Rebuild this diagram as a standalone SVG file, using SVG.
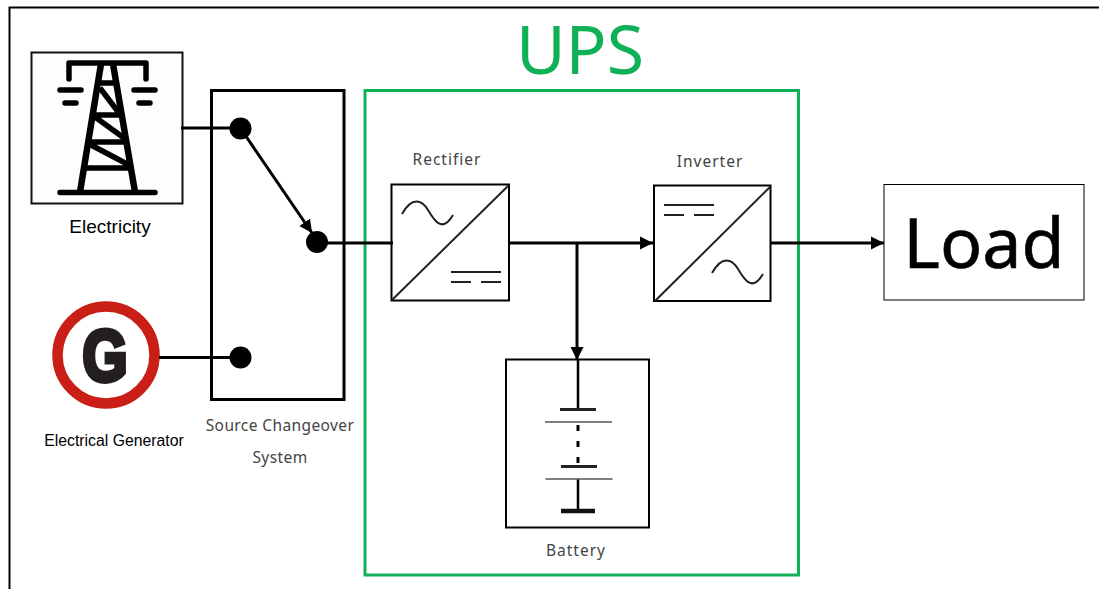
<svg xmlns="http://www.w3.org/2000/svg" width="1099" height="589" viewBox="0 0 1099 589">
<style>
.ar{font-family:"Liberation Sans",Arial,sans-serif;fill:#000}
.no{font-family:"Noto Sans","Open Sans",sans-serif;fill:#444;font-size:15.5px;text-anchor:middle;letter-spacing:.4px}
.sp{letter-spacing:1px}
.box{fill:#fff;stroke:#000}
.t{fill:none;stroke:#000;stroke-width:5.5;stroke-linecap:round;stroke-linejoin:round}
.w{fill:none;stroke:#222;stroke-width:2;stroke-linecap:butt}
.c{fill:none;stroke:#000;stroke-width:3}
.dot{fill:#000}
</style>
<defs>
<marker id="ah" markerUnits="userSpaceOnUse" markerWidth="14" markerHeight="14" refX="13" refY="7" orient="auto"><path d="M0,0.500 L13,7 L0,13.500 Z" fill="#000"/></marker>
</defs>
<rect width="1099" height="589" fill="#fff"/>
<path id="frame" d="M9.500,589 V7.500 H1099" fill="none" stroke="#000" stroke-width="2"/>
<g id="ups">
<rect x="365" y="90.500" width="433.500" height="484.500" fill="none" stroke="#0eb058" stroke-width="3"/>
<text x="580" y="74" text-anchor="middle" font-family="Noto Sans,sans-serif" font-size="68" fill="#0eb058">UPS</text>
</g>
<g id="electricity">
<rect x="31.500" y="52.500" width="151" height="151" fill="#fdfdfd" stroke="#111" stroke-width="2"/>
<path class="t" d="M69,79 V63 H146 V79 M60,90 H81 M134,90 H155 M65,103 H76 M139,103 H150 M60,192.500 H155"/>
<path class="t" style="stroke-linecap:butt;stroke-width:6.500" d="M101,64 L80,192 M113,64 L135,192"/>
<path class="t" style="stroke-linecap:butt" d="M99,83 H117 M94,115 H121 M90,142 H126 M85,168 H130 M100,88 L119,113 M95,117 L124,138 M91,145 L129,165"/>
<text class="ar" x="110" y="232.500" text-anchor="middle" font-size="19">Electricity</text>
</g>
<g id="generator">
<circle cx="106" cy="355" r="48.500" fill="#fff" stroke="#c91f17" stroke-width="10.500"/>
<text x="105" y="380.500" text-anchor="middle" font-family="Liberation Sans,sans-serif" font-weight="700" font-size="72" textLength="45" lengthAdjust="spacingAndGlyphs" fill="#231f20" stroke="#231f20" stroke-width="5">G</text>
<text class="ar" x="114" y="446" text-anchor="middle" font-size="15.800">Electrical Generator</text>
</g>
<g id="changeover">
<rect x="211.500" y="90.500" width="132.500" height="309" fill="none" stroke="#000" stroke-width="3"/>
<text class="no" x="280" y="431">Source Changeover</text>
<text class="no" x="280" y="463">System</text>
</g>
<g id="rectifier">
<rect class="box" x="391.500" y="184.500" width="117.500" height="116" stroke-width="2"/>
<path class="w" d="M392,300 L509,185"/>
<path class="w" d="M402,214 C412,196 422,200 428,210 C434,220 442,234 453,215"/>
<path class="w" d="M451,272 H501 M451,282 H471 M481,282 H501"/>
<text class="no sp" x="447" y="165">Rectifier</text>
</g>
<g id="inverter">
<rect class="box" x="654" y="185.500" width="116.500" height="115.500" stroke-width="2"/>
<path class="w" d="M655,301 L771,186"/>
<path class="w" d="M712,273 C722,255 732,259 738,269 C744,279 752,293 763,274"/>
<path class="w" d="M664,205 H714 M664,215 H684 M694,215 H714"/>
<text class="no sp" x="710" y="167">Inverter</text>
</g>
<g id="battery">
<rect class="box" x="506" y="359.500" width="143" height="168" stroke-width="2"/>
<path d="M578,360 V409 M578,479 V511" fill="none" stroke="#000" stroke-width="2.500"/>
<path d="M578,425 V431 M578,441 V447 M578,457 V463" fill="none" stroke="#000" stroke-width="3"/>
<path d="M560,409.500 H596 M561,466.500 H597" fill="none" stroke="#222" stroke-width="3"/>
<path d="M545,422 H612 M545.500,479 H612.500" fill="none" stroke="#555" stroke-width="1.500"/>
<path d="M561,511 H595" fill="none" stroke="#111" stroke-width="4.500"/>
<text class="no sp" x="576" y="556">Battery</text>
</g>
<g id="load">
<rect class="box" x="884" y="184.500" width="200" height="115.500" stroke-width="1"/>
<text x="984" y="268" text-anchor="middle" font-family="Noto Sans,sans-serif" font-size="70" fill="#000" stroke="#000" stroke-width=".6">Load</text>
</g>
<g id="connectors">
<path class="c" d="M181,128 H240"/>
<path class="c" d="M159,357.500 H240"/>
<path class="c" d="M241,129 L312,233" marker-end="url(#ah)"/>
<path class="c" d="M317,243 H393"/>
<path class="c" d="M510,243 H653" marker-end="url(#ah)"/>
<path class="c" d="M577,243 V360" marker-end="url(#ah)"/>
<path class="c" d="M770,243 H884" marker-end="url(#ah)"/>
<circle class="dot" cx="240.500" cy="128.500" r="11"/>
<circle class="dot" cx="240.500" cy="357.500" r="11"/>
<circle class="dot" cx="317" cy="242" r="11"/>
</g>
</svg>
